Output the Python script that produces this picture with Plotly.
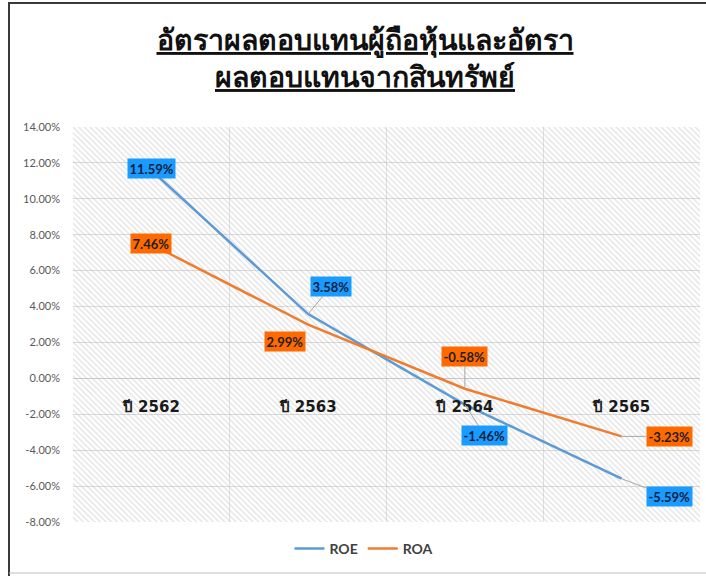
import plotly.graph_objects as go

# ---- data ----
categories = ["ปี 2562", "ปี 2563", "ปี 2564", "ปี 2565"]
roe = [11.59, 3.58, -1.46, -5.59]
roa = [7.46, 2.99, -0.58, -3.23]
y_ticks = [-8, -6, -4, -2, 0, 2, 4, 6, 8, 10, 12, 14]

# label offsets (pixels) relative to each point: (dx, dy, leader line?)
roe_label_offsets = [(0, -2, False), (23, -28, True), (20, 31, True), (48, 18, True)]
roa_label_offsets = [(0, -1, False), (-23, 17, False), (0, -32, True), (48, 0, True)]

W, H = 706, 576
ML, MR, MT, MB = 73, 6, 127, 54
PW, PH = W - ML - MR, H - MT - MB

ROE_COLOR = "#5B9BD5"
ROA_COLOR = "#ED7D31"
ROE_BOX = "#1A9BFF"
ROA_BOX = "#FF6A00"

ymin, ymax = min(y_ticks), max(y_ticks)

fig = go.Figure()
# hatched plot-area background (spans the full axis range per category)
fig.add_trace(go.Bar(
    x=categories, y=[ymax - ymin] * len(categories), base=[ymin] * len(categories),
    width=1, showlegend=False, hoverinfo="skip",
    marker=dict(color="rgba(0,0,0,0)", line=dict(width=0),
                pattern=dict(shape="\\", size=4, solidity=0.3,
                             fgcolor="#c2c2c2", bgcolor="rgba(0,0,0,0)",
                             fillmode="overlay")),
))
fig.add_trace(go.Scatter(x=categories, y=roe, mode="lines", name="ROE",
                         line=dict(color=ROE_COLOR, width=2.5)))
fig.add_trace(go.Scatter(x=categories, y=roa, mode="lines", name="ROA",
                         line=dict(color=ROA_COLOR, width=2.5)))

def add_labels(values, offsets, box, txtcolor):
    for cat, v, (dx, dy, leader) in zip(categories, values, offsets):
        common = dict(x=cat, y=v, xref="x", yref="y",
                      text=f"<b>{v:.2f}%</b>",
                      font=dict(family="Lato, 'Open Sans', sans-serif", size=13, color=txtcolor),
                      bgcolor=box, borderpad=1.5)
        if leader:
            fig.add_annotation(**common, showarrow=True, arrowhead=0, arrowwidth=1,
                               arrowcolor="#a6a6a6", ax=dx, ay=dy, standoff=0)
        else:
            fig.add_annotation(**common, showarrow=False, xshift=dx, yshift=-dy)

add_labels(roe, roe_label_offsets, ROE_BOX, "#0E2240")
add_labels(roa, roa_label_offsets, ROA_BOX, "#1f1f1f")

# outer chart frame (pixel -> paper)
def px(xp):
    return (xp - ML) / PW

def py(yp):
    return (H - MB - yp) / PH

fig.add_shape(type="line", xref="paper", yref="paper", x0=px(9), x1=px(9),
              y0=py(2), y1=py(576), line=dict(color="#3a3a3a", width=2))
fig.add_shape(type="line", xref="paper", yref="paper", x0=px(9), x1=px(706),
              y0=py(3), y1=py(3), line=dict(color="#3a3a3a", width=2))
fig.add_shape(type="line", xref="paper", yref="paper", x0=px(9), x1=px(706),
              y0=py(573), y1=py(573), line=dict(color="#bfbfbf", width=1))

fig.update_layout(
    width=W, height=H,
    margin=dict(l=ML, r=MR, t=MT, b=MB, autoexpand=False),
    paper_bgcolor="white",
    plot_bgcolor="white",
    bargap=0,
    title=dict(
        text="<b><u>อัตราผลตอบแทนผู้ถือหุ้นและอัตรา</u></b><br><b><u>ผลตอบแทนจากสินทรัพย์</u></b>",
        x=365 / W, y=1 - 50 / H, xanchor="center", yanchor="middle",
        font=dict(family="'Noto Sans', sans-serif", size=28.5, color="#111111"),
    ),
    showlegend=True,
    legend=dict(orientation="h", x=px(364), y=py(549), xanchor="center",
                yanchor="middle", font=dict(family="Lato, sans-serif", size=14,
                                             color="#404040", weight="bold"),
                itemwidth=30, bgcolor="rgba(0,0,0,0)"),
    xaxis=dict(
        type="category", range=[-0.5, len(categories) - 0.5],
        tickson="boundaries", showgrid=True, gridcolor="#e0e0e0", gridwidth=1,
        anchor="free", position=(0 - ymin) / (ymax - ymin),
        showline=False, ticks="", zeroline=False,
        ticklabelstandoff=18,
        tickfont=dict(family="'DejaVu Sans', 'Noto Sans', sans-serif", size=15,
                      color="#1a1a1a", weight="bold"),
    ),
    yaxis=dict(
        range=[ymin, ymax], tickvals=y_ticks,
        ticktext=[f"{t:.2f}%" for t in y_ticks],
        showgrid=True, gridcolor="#d9d9d9", gridwidth=1,
        zeroline=True, zerolinecolor="#c8c8c8", zerolinewidth=1,
        ticks="", ticklabelstandoff=12, showline=False,
        tickfont=dict(family="Lato, 'Open Sans', sans-serif", size=11, color="#595959"),
    ),
)

fig.write_html("out.html", config={"displayModeBar": False},
               post_script="document.body.style.margin='0';")
